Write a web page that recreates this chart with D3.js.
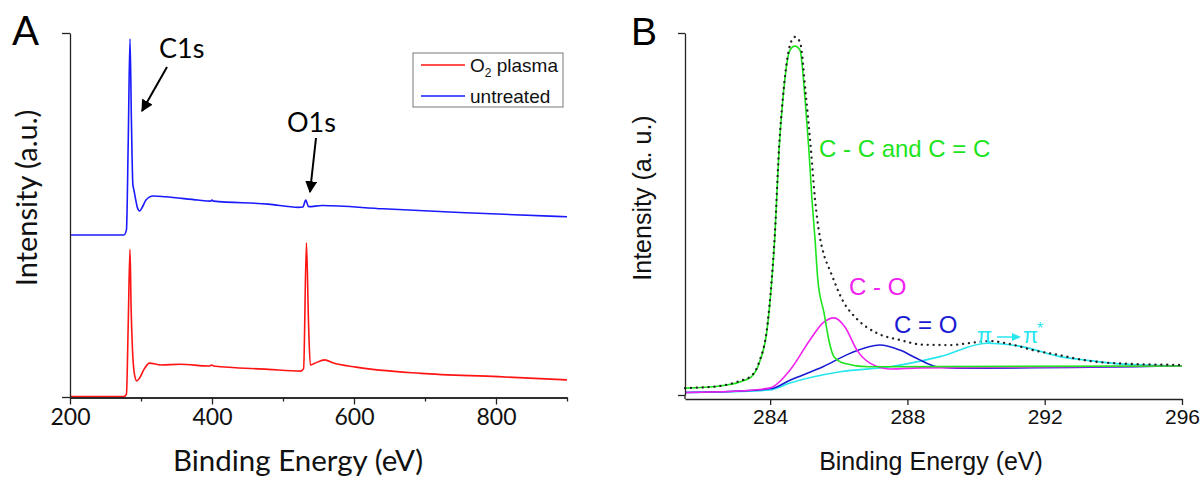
<!doctype html>
<html lang="en">
<head>
<meta charset="UTF-8">
<title>XPS spectra</title>
<style type="text/css">
body {
  margin: 0;
  padding: 0;
  background: #fff;
}
.axA text { font-family: 'Lato', sans-serif; font-size: 23px; fill: #111; }
.axB text { font-family: 'Liberation Sans', Arial, sans-serif; font-size: 21px; fill: #111; }
.domain, .tick line { stroke: #222; stroke-width: 1.3px; }
</style>
<script src="https://cdn.jsdelivr.net/npm/d3@7"></script>
</head>
<body>
<div id="charts"></div>
<script type="text/javascript">

// ---- panel A : survey spectra, [binding energy eV, intensity a.u.]
var seriesNamesA = ['O2 plasma', 'untreated'];
var seriesColorsA = ['#ff1414', '#1a1aff'];

var plasmaA = [[200,1],[276,1],[279.5,8],[282,200],[284.5,406],[286,250],[288,130],[291,60],[294,44],
  [298,52],[304,75],[312,93],[328,88],[355,90],[396,85],[400,88],[402,85],[479,76],[525,71],[529,78],
  [533,424],[536,200],[538.5,88],[544,92],[559,102],[570,94],[603,82],[694,65],[803,56],[900,47]];

var untreatedA = [[200,445],[276,445],[279.5,459],[282,700],[284.5,984],[286.5,760],[288.5,585],[290,569],
  [292,548],[295,520],[298,511],[302,522],[307,541],[317,552],[334,550],[380,541],[398,538],[400,541],
  [402,538],[479,530],[522,521],[528,522],[532,541],[536,523],[555,526],[641,517],[749,507],[900,495]];

var xTicksMajorA = [200, 400, 600, 800];
var xTicksMinorA = [300, 500, 700, 900];

// ---- panel B : C1s high resolution fit
var envelopeB = [[281.52,19],[282.54,25],[283.12,39],[283.44,52],[283.68,91],[283.91,185],[284.05,323],
  [284.14,448],[284.26,683],[284.37,820],[284.58,967],[284.72,989],[284.87,975],[285.04,829],[285.19,677],
  [285.31,539],[285.44,442],[285.57,387],[285.74,345],[286.12,260],[286.53,210],[287.11,171],[287.78,152],
  [288.45,139],[289.24,138],[290.02,146],[290.4,149],[290.98,141],[291.66,124],[292.44,110],[293.11,97],
  [294.19,87],[296,83]];

var ccB = [[281.52,19],[282.54,25],[283.12,36],[283.45,50],[283.68,88],[283.91,180],[284.05,318],[284.14,442],
  [284.26,677],[284.37,815],[284.58,953],[284.72,964],[284.87,953],[285.02,815],[285.13,677],[285.22,539],
  [285.31,428],[285.39,318],[285.57,227],[285.71,152],[285.86,106],[286.18,87],[286.85,78],[296,80]];

var coB = [[281.52,7],[283.12,11],[283.97,19],[284.58,69],[285.16,152],[285.54,199],[285.86,213],[286.18,188],
  [286.53,124],[286.91,88],[287.49,72],[288.37,75],[296,80]];

var c2oB = [[281.52,7],[283.12,11],[284.05,18],[284.58,41],[285.54,78],[286.33,115],[287.2,138],[287.78,124],
  [288.28,101],[288.86,78],[289.44,74],[296,80]];

var piB = [[281.52,7],[283.12,10],[284.0,14],[284.58,33],[286.04,64],[287.49,78],[288.95,106],[290.32,143],
  [291.37,133],[292.44,106],[293.32,95],[294.19,86],[296,80]];

var componentNamesB = ['C - C and C = C', 'C - O', 'C = O'];
var componentColorsB = ['#1de41d', '#f022f0', '#1a1ad2', '#26e6ee'];
var xTicksB = [284, 288, 292, 296];

function translate(x, y) {
  return 'translate(' + x + ',' + y + ')';
}

function init() {
  var svg = d3.select('#charts').append('svg')
    .attr('width', 1204)
    .attr('height', 478);

  svg.append('defs').append('marker')
    .attr('id', 'arrowhead')
    .attr('viewBox', '0 0 10 10')
    .attr('refX', 9).attr('refY', 5)
    .attr('markerWidth', 6).attr('markerHeight', 6)
    .attr('markerUnits', 'strokeWidth')
    .attr('orient', 'auto')
    .append('path').attr('d', 'M0,0 L10,5 L0,10 z').attr('fill', '#000');

  drawPanelA(svg);
  drawPanelB(svg);
}

function drawPanelA(svg) {
  var x = d3.scaleLinear().domain([200, 900]).range([70, 567]);
  var y = d3.scaleLinear().domain([0, 1000]).range([397, 33]);
  var font = "'Lato', sans-serif";

  var line = d3.line()
    .x(function(d) { return x(d[0]); })
    .y(function(d) { return y(d[1]); })
    .curve(d3.curveMonotoneX);

  [plasmaA, untreatedA].forEach(function(data, i) {
    svg.append('path')
      .attr('d', line(data))
      .attr('fill', 'none')
      .attr('stroke', seriesColorsA[i])
      .attr('stroke-width', 1.6);
  });

  var gx = svg.append('g').attr('class', 'axA').attr('transform', translate(0, 397.5));
  gx.call(d3.axisBottom(x).tickValues(xTicksMajorA).tickSize(7).tickSizeOuter(0).tickPadding(4));
  svg.append('g').attr('class', 'axA').attr('transform', translate(0, 397.5))
    .call(d3.axisBottom(x).tickValues(xTicksMinorA).tickSize(4).tickSizeOuter(0).tickFormat(''));

  svg.append('g').attr('class', 'axA').attr('transform', translate(70, 0))
    .call(d3.axisLeft(y).tickValues([0, 1000]).tickSize(8).tickSizeOuter(0).tickFormat(''));

  svg.append('text')
    .attr('x', 298).attr('y', 471)
    .attr('text-anchor', 'middle')
    .style('font-family', font).style('font-size', '29.5px').style('fill', '#111')
    .text('Binding Energy (eV)');

  svg.append('text')
    .attr('transform', translate(37, 198) + ' rotate(-90)')
    .attr('text-anchor', 'middle')
    .style('font-family', font).style('font-size', '29px').style('fill', '#111')
    .text('Intensity (a.u.)');

  svg.append('text')
    .attr('x', 12).attr('y', 45)
    .style('font-family', font).style('font-size', '40px').style('fill', '#000')
    .text('A');

  // peak annotations
  svg.append('text').attr('x', 159).attr('y', 58)
    .style('font-family', font).style('font-size', '27px').style('fill', '#000').text('C1s');
  svg.append('text').attr('x', 287).attr('y', 132)
    .style('font-family', font).style('font-size', '27px').style('fill', '#000').text('O1s');
  svg.append('line').attr('x1', 167).attr('y1', 67).attr('x2', 142).attr('y2', 111)
    .attr('stroke', '#000').attr('stroke-width', 2).attr('marker-end', 'url(#arrowhead)');
  svg.append('line').attr('x1', 316).attr('y1', 138).attr('x2', 310).attr('y2', 192)
    .attr('stroke', '#000').attr('stroke-width', 2).attr('marker-end', 'url(#arrowhead)');

  // legend
  var legend = svg.append('g').attr('transform', translate(413, 53));
  legend.append('rect')
    .attr('width', 150).attr('height', 54)
    .attr('fill', '#fff').attr('stroke', '#7a7a7a').attr('stroke-width', 1);
  seriesNamesA.forEach(function(name, i) {
    var row = legend.append('g').attr('transform', translate(0, 12 + i * 31));
    row.append('line').attr('x1', 8).attr('x2', 52)
      .attr('stroke', seriesColorsA[i]).attr('stroke-width', 1.6);
    var t = row.append('text').attr('x', 57).attr('y', 7)
      .style('font-family', "'Liberation Sans', Arial, sans-serif")
      .style('font-size', '19px').style('fill', '#111');
    if (name.indexOf('O2') === 0) {
      t.append('tspan').text('O');
      t.append('tspan').attr('dy', 5).style('font-size', '12px').text('2');
      t.append('tspan').attr('dy', -5).text(' plasma');
    } else {
      t.text(name);
    }
  });
}

function drawPanelB(svg) {
  var x = d3.scaleLinear().domain([281.52, 296]).range([685, 1182]);
  var y = d3.scaleLinear().domain([0, 1000]).range([395, 33]);
  var font = "'Liberation Sans', Arial, sans-serif";

  var line = d3.line()
    .x(function(d) { return x(d[0]); })
    .y(function(d) { return y(d[1]); })
    .curve(d3.curveMonotoneX);

  [piB, c2oB, coB, ccB].forEach(function(data, i) {
    var ci = [3, 2, 1, 0][i];
    svg.append('path')
      .attr('d', line(data))
      .attr('fill', 'none')
      .attr('stroke', componentColorsB[ci])
      .attr('stroke-width', 1.6);
  });

  svg.append('path')
    .attr('d', line(envelopeB))
    .attr('fill', 'none')
    .attr('stroke', '#222')
    .attr('stroke-width', 2.3)
    .attr('stroke-linecap', 'round')
    .attr('stroke-dasharray', '0.1 5.8');

  svg.append('g').attr('class', 'axB').attr('transform', translate(0, 399))
    .call(d3.axisBottom(x).tickValues(xTicksB).tickSize(6).tickSizeOuter(0).tickPadding(4));
  svg.append('g').attr('class', 'axB').attr('transform', translate(685, 0))
    .call(d3.axisLeft(y).tickValues([0, 1000]).tickSize(7).tickSizeOuter(0).tickFormat(''));
  svg.append('line').attr('x1', 685).attr('x2', 685).attr('y1', y(0)).attr('y2', 399)
    .attr('stroke', '#222').attr('stroke-width', 1.3);

  svg.append('text')
    .attr('x', 931).attr('y', 470)
    .attr('text-anchor', 'middle')
    .style('font-family', font).style('font-size', '25px').style('fill', '#111')
    .text('Binding Energy (eV)');

  svg.append('text')
    .attr('transform', translate(651, 198) + ' rotate(-90)')
    .attr('text-anchor', 'middle')
    .style('font-family', font).style('font-size', '25px').style('fill', '#111')
    .text('Intensity (a. u.)');

  svg.append('text')
    .attr('x', 631).attr('y', 45)
    .style('font-family', font).style('font-size', '39px').style('fill', '#000')
    .text('B');

  // component labels
  var labelPos = [[819, 157], [849, 295], [894, 333]];
  componentNamesB.forEach(function(name, i) {
    svg.append('text')
      .attr('x', labelPos[i][0]).attr('y', labelPos[i][1])
      .style('font-family', font).style('font-size', '24px')
      .style('fill', componentColorsB[i])
      .text(name);
  });

  var pi = svg.append('g').style('font-family', font).style('fill', componentColorsB[3]);
  pi.append('text').attr('x', 977).attr('y', 343).style('font-size', '22px').text('π');
  pi.append('text').attr('x', 1023).attr('y', 343).style('font-size', '22px').text('π');
  pi.append('text').attr('x', 1037).attr('y', 334).style('font-size', '16px').text('*');
  pi.append('line').attr('x1', 997).attr('x2', 1014).attr('y1', 337).attr('y2', 337)
    .attr('stroke', componentColorsB[3]).attr('stroke-width', 1.5);
  pi.append('path').attr('d', 'M1012,333 L1021,337 L1012,341 Z').attr('fill', componentColorsB[3]);
}

init();

</script>
</body>
</html>
